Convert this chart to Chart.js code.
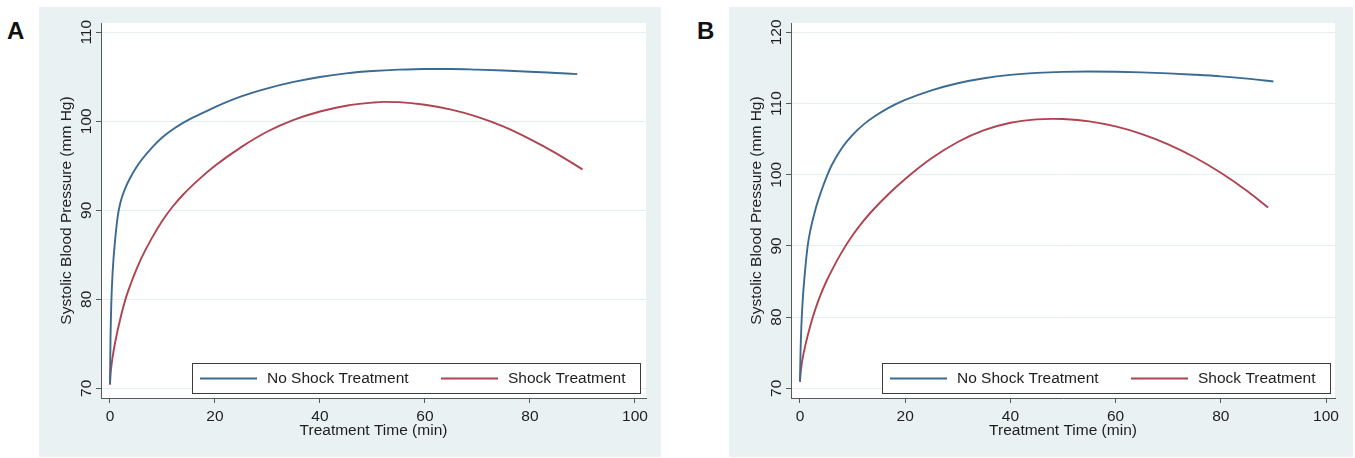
<!DOCTYPE html>
<html>
<head>
<meta charset="utf-8">
<script src="https://cdn.jsdelivr.net/npm/chart.js@4.4.1/dist/chart.umd.min.js"></script>
<style>
  html, body { margin: 0; padding: 0; background: #ffffff; width: 1355px; height: 458px; overflow: hidden; }
  .panel { position: absolute; background: #EAF1F3; }
  .panel canvas { position: absolute; left: 0; top: 0; }
  .lab { position: absolute; font: bold 24px "Liberation Sans", Arial, sans-serif; line-height: 1; color: #111; }
</style>
</head>
<body>
<div class="lab" style="left:7px;top:19px">A</div>
<div class="panel" style="left:39px;top:7px;width:622px;height:450px"><canvas id="chartA" width="622" height="450"></canvas></div>
<div class="lab" style="left:697px;top:19px">B</div>
<div class="panel" style="left:729px;top:7px;width:624px;height:450px"><canvas id="chartB" width="624" height="450"></canvas></div>
<script>
// ---- data ----
const seriesLabels = ["No Shock Treatment", "Shock Treatment"];
const xTitle = "Treatment Time (min)";
const yTitle = "Systolic Blood Pressure (mm Hg)";
const xTicks = [0, 20, 40, 60, 80, 100];
const yTicksA = [70, 80, 90, 100, 110];
const yTicksB = [70, 80, 90, 100, 110, 120];

// Panel A
const timeA_noShock = [0,0.1,0.25,0.5,1,1.5,2,3,4,5,6,8,10,12,14,17,20,25,30,35,40,45,50,55,60,65,70,75,80,85,89];
const sbpA_noShock  = [70.5,75.5,79.5,83,86.8,89.4,90.9,92.6,93.8,94.8,95.65,97.05,98.2,99.1,99.85,100.75,101.6,102.8,103.7,104.42,104.98,105.38,105.64,105.8,105.88,105.88,105.8,105.7,105.57,105.42,105.3];
const timeA_shock   = [0,0.1,0.25,0.5,1,2,3,4,5,6,8,10,12,14,17,20,25,30,35,40,45,50,52,55,60,65,70,75,80,85,90];
const sbpA_shock    = [70.4,71.5,72.4,73.5,75.2,77.9,80.1,81.8,83.3,84.65,86.9,88.85,90.45,91.8,93.5,95.0,97.1,98.85,100.15,101.1,101.75,102.1,102.18,102.15,101.85,101.3,100.5,99.4,98.0,96.4,94.6];

// Panel B
const timeB_noShock = [0,0.1,0.25,0.5,1,1.5,2,3,4,5,6,8,10,12,14,17,20,25,30,35,40,45,50,55,60,65,70,75,80,85,90];
const sbpB_noShock  = [71,75,78.5,82.2,86.8,90.2,92.3,95.3,97.6,99.6,101.3,103.8,105.6,107.0,108.1,109.45,110.5,111.85,112.85,113.55,114.02,114.3,114.45,114.5,114.47,114.38,114.24,114.05,113.82,113.5,113.1];
const timeB_shock   = [0,0.1,0.25,0.5,1,2,3,4,5,6,8,10,12,14,17,20,25,30,35,40,45,48,50,55,60,65,70,75,80,85,89];
const sbpB_shock    = [70.9,72.0,73.0,74.2,76.0,78.9,81.3,83.3,85.0,86.5,89.2,91.5,93.45,95.15,97.4,99.4,102.3,104.6,106.25,107.3,107.78,107.85,107.82,107.49,106.78,105.71,104.27,102.45,100.27,97.72,95.4];

// ---- styles ----
const FONT = '"Liberation Sans", Arial, sans-serif';
const textColor = '#1e1e1e';
const axisColor = '#555b5d';
const gridColor = '#E6EEF1';
const blue = '#3B6A94';
const red = '#B0434F';

function pts(t, v) { return t.map((x, i) => ({ x: x, y: v[i] })); }

const whiteArea = {
  id: 'whiteArea',
  beforeDraw(chart) {
    const { ctx, chartArea: a } = chart;
    ctx.save();
    ctx.fillStyle = '#ffffff';
    ctx.fillRect(a.left, a.top, a.right - a.left, a.bottom - a.top);
    ctx.restore();
  }
};

const boxLegend = {
  id: 'boxLegend',
  afterDraw(chart) {
    const { ctx, chartArea: a } = chart;
    const left = Math.round(a.left + 90.5), top = Math.round(a.bottom - 35), w = 448, h = 30;
    ctx.save();
    ctx.fillStyle = '#ffffff';
    ctx.fillRect(left, top, w, h);
    ctx.strokeStyle = '#3c3c3c';
    ctx.lineWidth = 1;
    ctx.strokeRect(left + 0.5, top + 0.5, w, h);
    const my = top + h / 2 + 0.5;
    const offs = [8, 249];
    chart.data.datasets.forEach((ds, i) => {
      const x0 = left + offs[i];
      ctx.strokeStyle = ds.borderColor;
      ctx.lineWidth = ds.borderWidth;
      ctx.beginPath();
      ctx.moveTo(x0, my);
      ctx.lineTo(x0 + 57, my);
      ctx.stroke();
      ctx.fillStyle = textColor;
      ctx.font = '15.5px ' + FONT;
      ctx.textBaseline = 'middle';
      ctx.textAlign = 'left';
      ctx.fillText(ds.label, x0 + 67, my);
    });
    ctx.restore();
  }
};

function makeChart(id, tN, vN, tS, vS, yMin, yMax, yTicks, xMin, xMax, padRight) {
  return new Chart(document.getElementById(id), {
    type: 'line',
    data: {
      datasets: [
        { label: seriesLabels[0], data: pts(tN, vN), borderColor: blue, borderWidth: 1.9, pointRadius: 0, cubicInterpolationMode: 'monotone', fill: false },
        { label: seriesLabels[1], data: pts(tS, vS), borderColor: red, borderWidth: 1.9, pointRadius: 0, cubicInterpolationMode: 'monotone', fill: false }
      ]
    },
    options: {
      responsive: false,
      animation: false,
      events: [],
      layout: { padding: { left: 0, top: 16, right: padRight, bottom: 0 } },
      plugins: { legend: { display: false }, tooltip: { enabled: false } },
      scales: {
        x: {
          type: 'linear', min: xMin, max: xMax,
          afterBuildTicks: s => { s.ticks = xTicks.map(v => ({ value: v })); },
          afterFit: s => { s.height = 59; },
          grid: { drawOnChartArea: false, drawTicks: true, tickLength: 5, tickColor: axisColor, tickWidth: 1 },
          border: { display: true, color: axisColor, width: 1 },
          ticks: { color: textColor, font: { family: FONT, size: 15.5 }, padding: 4, maxRotation: 0, autoSkip: false },
          title: { display: true, text: xTitle, color: textColor, font: { family: FONT, size: 15.5 }, padding: { top: 0, bottom: 16.7 } }
        },
        y: {
          type: 'linear', min: yMin, max: yMax,
          afterBuildTicks: s => { s.ticks = yTicks.map(v => ({ value: v })); },
          afterFit: s => { s.width = 62; },
          grid: { color: gridColor, lineWidth: 1, drawTicks: true, tickLength: 5, tickColor: axisColor, tickWidth: 1 },
          border: { display: true, color: axisColor, width: 1 },
          ticks: { color: textColor, font: { family: FONT, size: 15.5 }, padding: -4, minRotation: 90, maxRotation: 90, crossAlign: 'center', autoSkip: false },
          title: { display: true, text: yTitle, color: textColor, font: { family: FONT, size: 15.5 }, padding: { top: 18, bottom: 0 } }
        }
      }
    },
    plugins: [whiteArea, boxLegend]
  });
}

makeChart('chartA', timeA_noShock, sbpA_noShock, timeA_shock, sbpA_shock, 68.91, 111.04, yTicksA, -1.71, 102.1, 15);
makeChart('chartB', timeB_noShock, sbpB_noShock, timeB_shock, sbpB_shock, 68.64, 121.31, yTicksB, -1.71, 101.71, 18);
</script>
</body>
</html>
